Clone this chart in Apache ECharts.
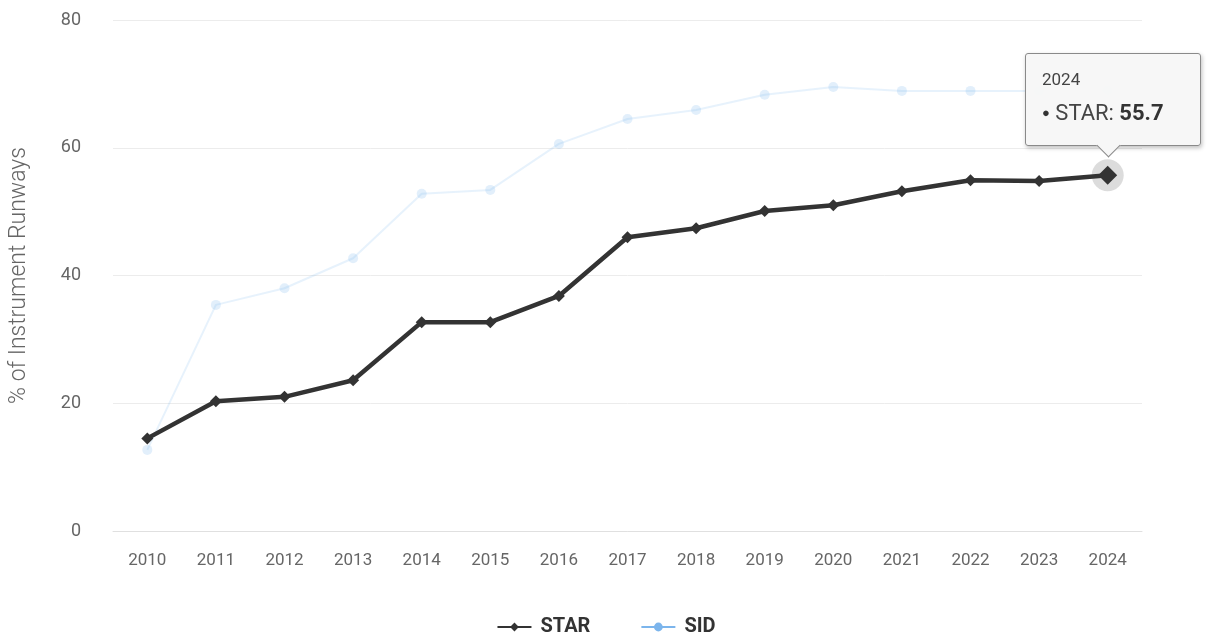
<!DOCTYPE html>
<html>
<head>
<meta charset="utf-8">
<script src="https://cdn.jsdelivr.net/npm/echarts@6/dist/echarts.min.js"></script>
<style>
html,body{margin:0;padding:0;background:#fff;}
#chart{width:1212px;height:644px;}
</style>
</head>
<body>
<div id="chart"></div>
<script>
const years = ['2010','2011','2012','2013','2014','2015','2016','2017','2018','2019','2020','2021','2022','2023','2024'];
const star = [14.5, 20.3, 21.0, 23.6, 32.7, 32.7, 36.8, 46.0, 47.4, 50.1, 51.0, 53.2, 54.9, 54.8, 55.7];
const sid = [12.7, 35.4, 38.0, 42.7, 52.8, 53.4, 60.6, 64.5, 65.9, 68.3, 69.5, 68.9, 68.9, 68.9, 69.0];
const yTicks = [0, 20, 40, 60, 80];
const hoverIndex = 14;

const FONT = 'Roboto, "Noto Sans", sans-serif';
const chart = echarts.init(document.getElementById('chart'));
const haloData = star.map((v, i) => i === hoverIndex ? v : null);

chart.setOption({
  animation: false,
  backgroundColor: '#fff',
  grid: {left: 113, right: 70, top: 20, bottom: 113, containLabel: false},
  xAxis: {
    type: 'category',
    data: years,
    boundaryGap: true,
    axisLine: {show: true, lineStyle: {color: '#e0e0e0', width: 1}},
    axisTick: {show: false},
    axisLabel: {color: '#666', fontSize: 17, fontFamily: FONT, margin: 21}
  },
  yAxis: {
    type: 'value',
    min: yTicks[0],
    max: yTicks[yTicks.length - 1],
    interval: 20,
    name: '% of Instrument Runways',
    nameLocation: 'middle',
    nameGap: 82,
    nameTextStyle: {color: '#666', fontSize: 23, fontWeight: 300, fontFamily: FONT},
    axisLine: {show: false},
    axisTick: {show: false},
    axisLabel: {color: '#666', fontSize: 18, fontFamily: FONT, margin: 32},
    splitLine: {lineStyle: {color: '#ececec', width: 1}}
  },
  legend: {
    bottom: 2,
    left: 'center',
    itemGap: 50,
    itemWidth: 34,
    itemHeight: 11,
    textStyle: {color: '#333', fontSize: 20, fontWeight: 'bold', fontFamily: FONT, padding: [0, 0, 0, 4]},
    data: [
      {name: 'STAR'},
      {name: 'SID', itemStyle: {opacity: 1, color: '#7cb5ec'}, lineStyle: {opacity: 1, color: '#7cb5ec'}}
    ]
  },
  tooltip: {
    trigger: 'item',
    triggerOn: 'none',
    alwaysShowContent: true,
    transitionDuration: 0,
    backgroundColor: 'rgba(247,247,247,0.97)',
    borderColor: '#8a8a8a',
    borderWidth: 1,
    padding: [14, 18, 17, 16],
    extraCssText: 'border-radius:3px;box-shadow:1px 2px 4px rgba(0,0,0,0.25);overflow:visible;',
    position: function (point, params, dom, rect, size) {
      return [point[0] - size.contentSize[0] / 2 + 5, point[1] - size.contentSize[1] - 29];
    },
    formatter: function (p) {
      return '<div style="position:relative;width:140px;font-family:' + FONT.replace(/"/g, "'") + ';color:#333;">' +
        '<div style="font-size:17px;color:#444;line-height:22px;">' + p.name + '</div>' +
        '<div style="font-size:22px;line-height:30px;margin-top:8px;color:#444;white-space:nowrap;">' +
        '<span style="color:#333;font-size:13px;vertical-align:3px;">\u25CF</span> ' + p.seriesName + ': <b style="color:#333;">' + p.value + '</b></div>' +
        '<div style="position:absolute;left:50%;bottom:-26px;width:16px;height:16px;margin-left:-12px;background:rgb(247,247,247);border-right:1px solid #8a8a8a;border-bottom:1px solid #8a8a8a;transform:rotate(45deg);"></div>' +
        '</div>';
    }
  },
  series: [
    {
      name: 'halo',
      type: 'scatter',
      data: haloData,
      symbol: 'circle',
      symbolSize: 32,
      itemStyle: {color: 'rgba(80,80,80,0.25)'},
      silent: true,
      z: 1,
      tooltip: {show: false}
    },
    {
      name: 'SID',
      type: 'line',
      data: sid,
      symbol: 'circle',
      symbolSize: 10,
      lineStyle: {color: '#7cb5ec', width: 2, opacity: 0.18},
      itemStyle: {color: '#7cb5ec', opacity: 0.22},
      z: 2
    },
    {
      name: 'STAR',
      type: 'line',
      data: star,
      symbol: 'diamond',
      symbolSize: function (v, p) { return p.dataIndex === hoverIndex ? 19 : 12; },
      lineStyle: {color: '#333', width: 4.5},
      itemStyle: {color: '#333'},
      z: 3
    }
  ]
});

chart.dispatchAction({type: 'showTip', seriesIndex: 2, dataIndex: hoverIndex});
</script>
</body>
</html>
